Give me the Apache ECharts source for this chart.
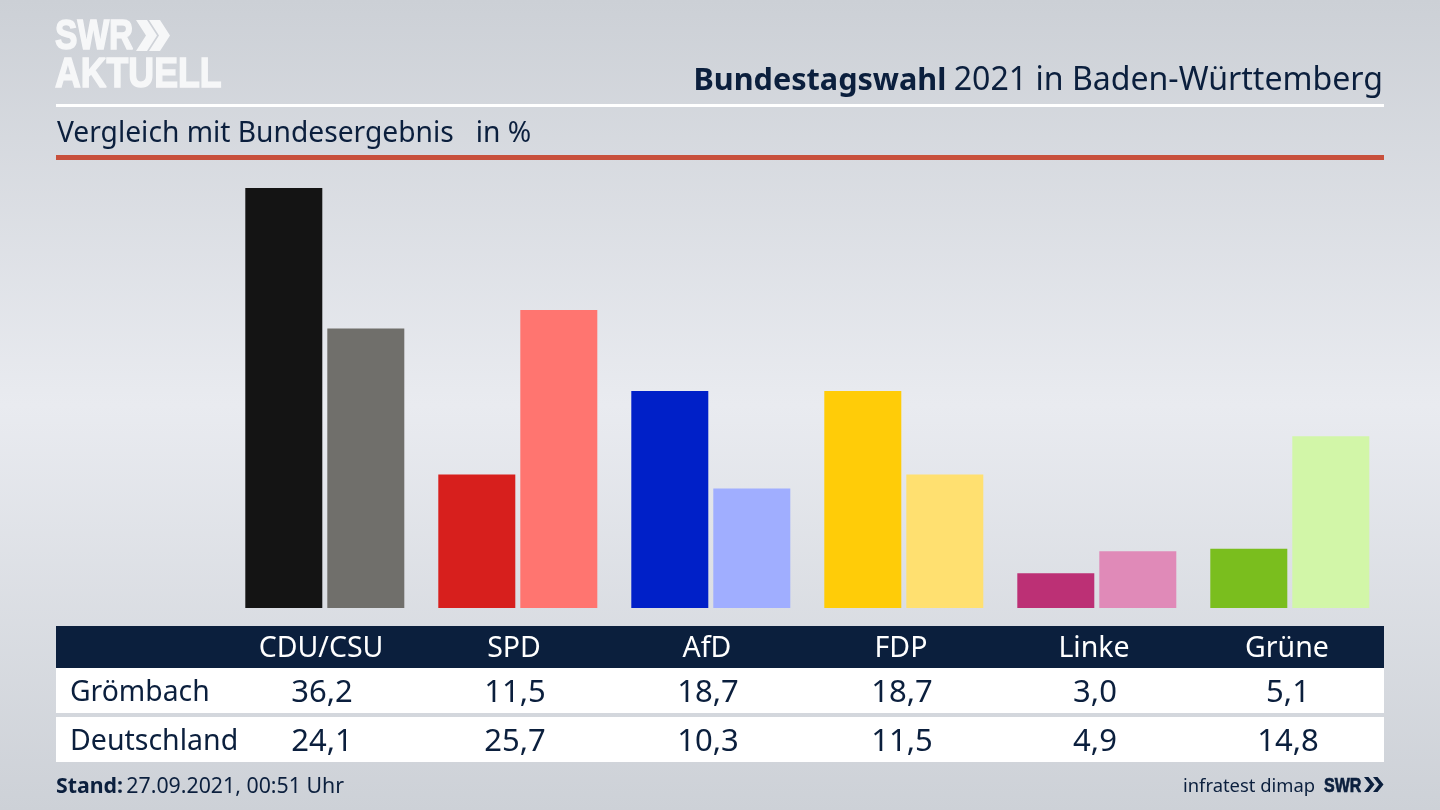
<!DOCTYPE html>
<html><head><meta charset="utf-8">
<style>html,body{margin:0;padding:0;width:1440px;height:810px;overflow:hidden}#c{width:1440px;height:810px}</style>
<script src="https://cdn.jsdelivr.net/npm/echarts@6/dist/echarts.min.js"></script>
</head><body><div id="c"></div>
<script>
const parties = ['CDU/CSU','SPD','AfD','FDP','Linke','Grüne'];
const groemLabel = 'Grömbach';
const deLabel = 'Deutschland';
const groembach = [36.2,11.5,18.7,18.7,3.0,5.1];
const deutschland = [24.1,25.7,10.3,11.5,4.9,14.8];
const darkColors = ['#141414','#d71f1d','#0020c8','#ffcc08','#bc3075','#7abe1e'];
const lightColors = ['#706f6b','#ff7570','#a0aeff','#ffe070','#e08ab8','#d2f6a8'];
const FONT = '"Noto Sans", sans-serif';
const HEAVY = '"Liberation Sans", sans-serif';
const NAVY = '#0b1f3d';
const labelX = [321,514,707,901,1094,1287];
const fmt = v => v.toFixed(1).replace('.',',');
const g = [];
const rect = (x,y,w,h,fill) => g.push({type:'rect',silent:true,shape:{x,y,width:w,height:h},style:{fill},z:1});
const text = (x,y,t,size,fill,align,weight,family,scaleX,stroke) => g.push({type:'text',silent:true,x,y,scaleX:scaleX||1,z:2,style:{text:t,fontSize:size,fill,align:align||'left',verticalAlign:'middle',fontWeight:weight||'normal',fontFamily:family||FONT,stroke:stroke?fill:undefined,lineWidth:stroke||0}});
const chev = (x,y,w,h,th,fill) => g.push({type:'polygon',silent:true,z:2,shape:{points:[[x,y],[x+th,y],[x+th+w,y+h/2],[x+th,y+h],[x,y+h],[x+w,y+h/2]]},style:{fill}});
// logo
text(55,37,'SWR',42,'#f6f7f8','left','bold',HEAVY,0.8,1.5);
chev(136,20,10,31,11,'#f6f7f8'); chev(149,20,10,31,11,'#f6f7f8');
text(55,75,'AKTUELL',42.5,'#f6f7f8','left','bold',HEAVY,0.84,1.5);
// header
rect(56,104,1328,3,'#ffffff');
rect(56,155,1328,5,'#c8503c');
g.push({type:'text',silent:true,z:2,x:1383,y:81,style:{text:'{b|Bundestagswahl} {n|2021 in Baden-Württemberg}',align:'right',verticalAlign:'middle',rich:{b:{fontSize:30.6,fontWeight:'bold',fill:NAVY,fontFamily:FONT},n:{fontSize:32.1,fill:NAVY,fontFamily:FONT,padding:[0,0,0,4]}}}});
text(57,134,'Vergleich mit Bundesergebnis   in %',28.2,NAVY);
// table
rect(56,626,1328,42,NAVY);
rect(56,668,1328,45,'#ffffff');
rect(56,717,1328,45,'#ffffff');
parties.forEach((p,i)=>{
  text(labelX[i],649,p,28.5,'#ffffff','center');
  text(labelX[i]+1,693,fmt(groembach[i]),31,NAVY,'center');
  text(labelX[i]+1,742,fmt(deutschland[i]),31,NAVY,'center');
});
text(70,693,groemLabel,28.3,NAVY);
text(70,742,deLabel,28.5,NAVY);
// footer
g.push({type:'text',silent:true,z:2,x:56,y:787,style:{text:'{b|Stand:} {n|27.09.2021, 00:51 Uhr}',align:'left',verticalAlign:'middle',rich:{b:{fontSize:21.3,fontWeight:'bold',fill:NAVY,fontFamily:FONT},n:{fontSize:21.3,fill:NAVY,fontFamily:FONT}}}});
text(1183,787,'infratest dimap',18.4,NAVY);
text(1324,786,'SWR',20.5,NAVY,'left','bold',HEAVY,0.78,0.7);
chev(1364,777,6,15,4.5,NAVY); chev(1373,777,6,15,4.5,NAVY);

const chart = echarts.init(document.getElementById('c'),null,{renderer:'canvas'});
chart.setOption({
  animation:false,
  backgroundColor:{type:'linear',x:0,y:0,x2:0,y2:1,colorStops:[{offset:0,color:'#ccd0d6'},{offset:0.5,color:'#e9ebf0'},{offset:1,color:'#cdd1d7'}]},
  grid:{left:228.3,width:1158,top:144,height:464,containLabel:false},
  xAxis:{type:'category',data:parties,axisLine:{show:false},axisTick:{show:false},axisLabel:{show:false}},
  yAxis:{type:'value',min:0,max:40,show:false,splitLine:{show:false}},
  series:[
    {type:'bar',name:groemLabel,data:groembach.map((v,i)=>({value:v,itemStyle:{color:darkColors[i]}})),barWidth:77,barGap:'6.5%'},
    {type:'bar',name:deLabel,data:deutschland.map((v,i)=>({value:v,itemStyle:{color:lightColors[i]}})),barWidth:77}
  ],
  graphic:g
});
</script></body></html>
